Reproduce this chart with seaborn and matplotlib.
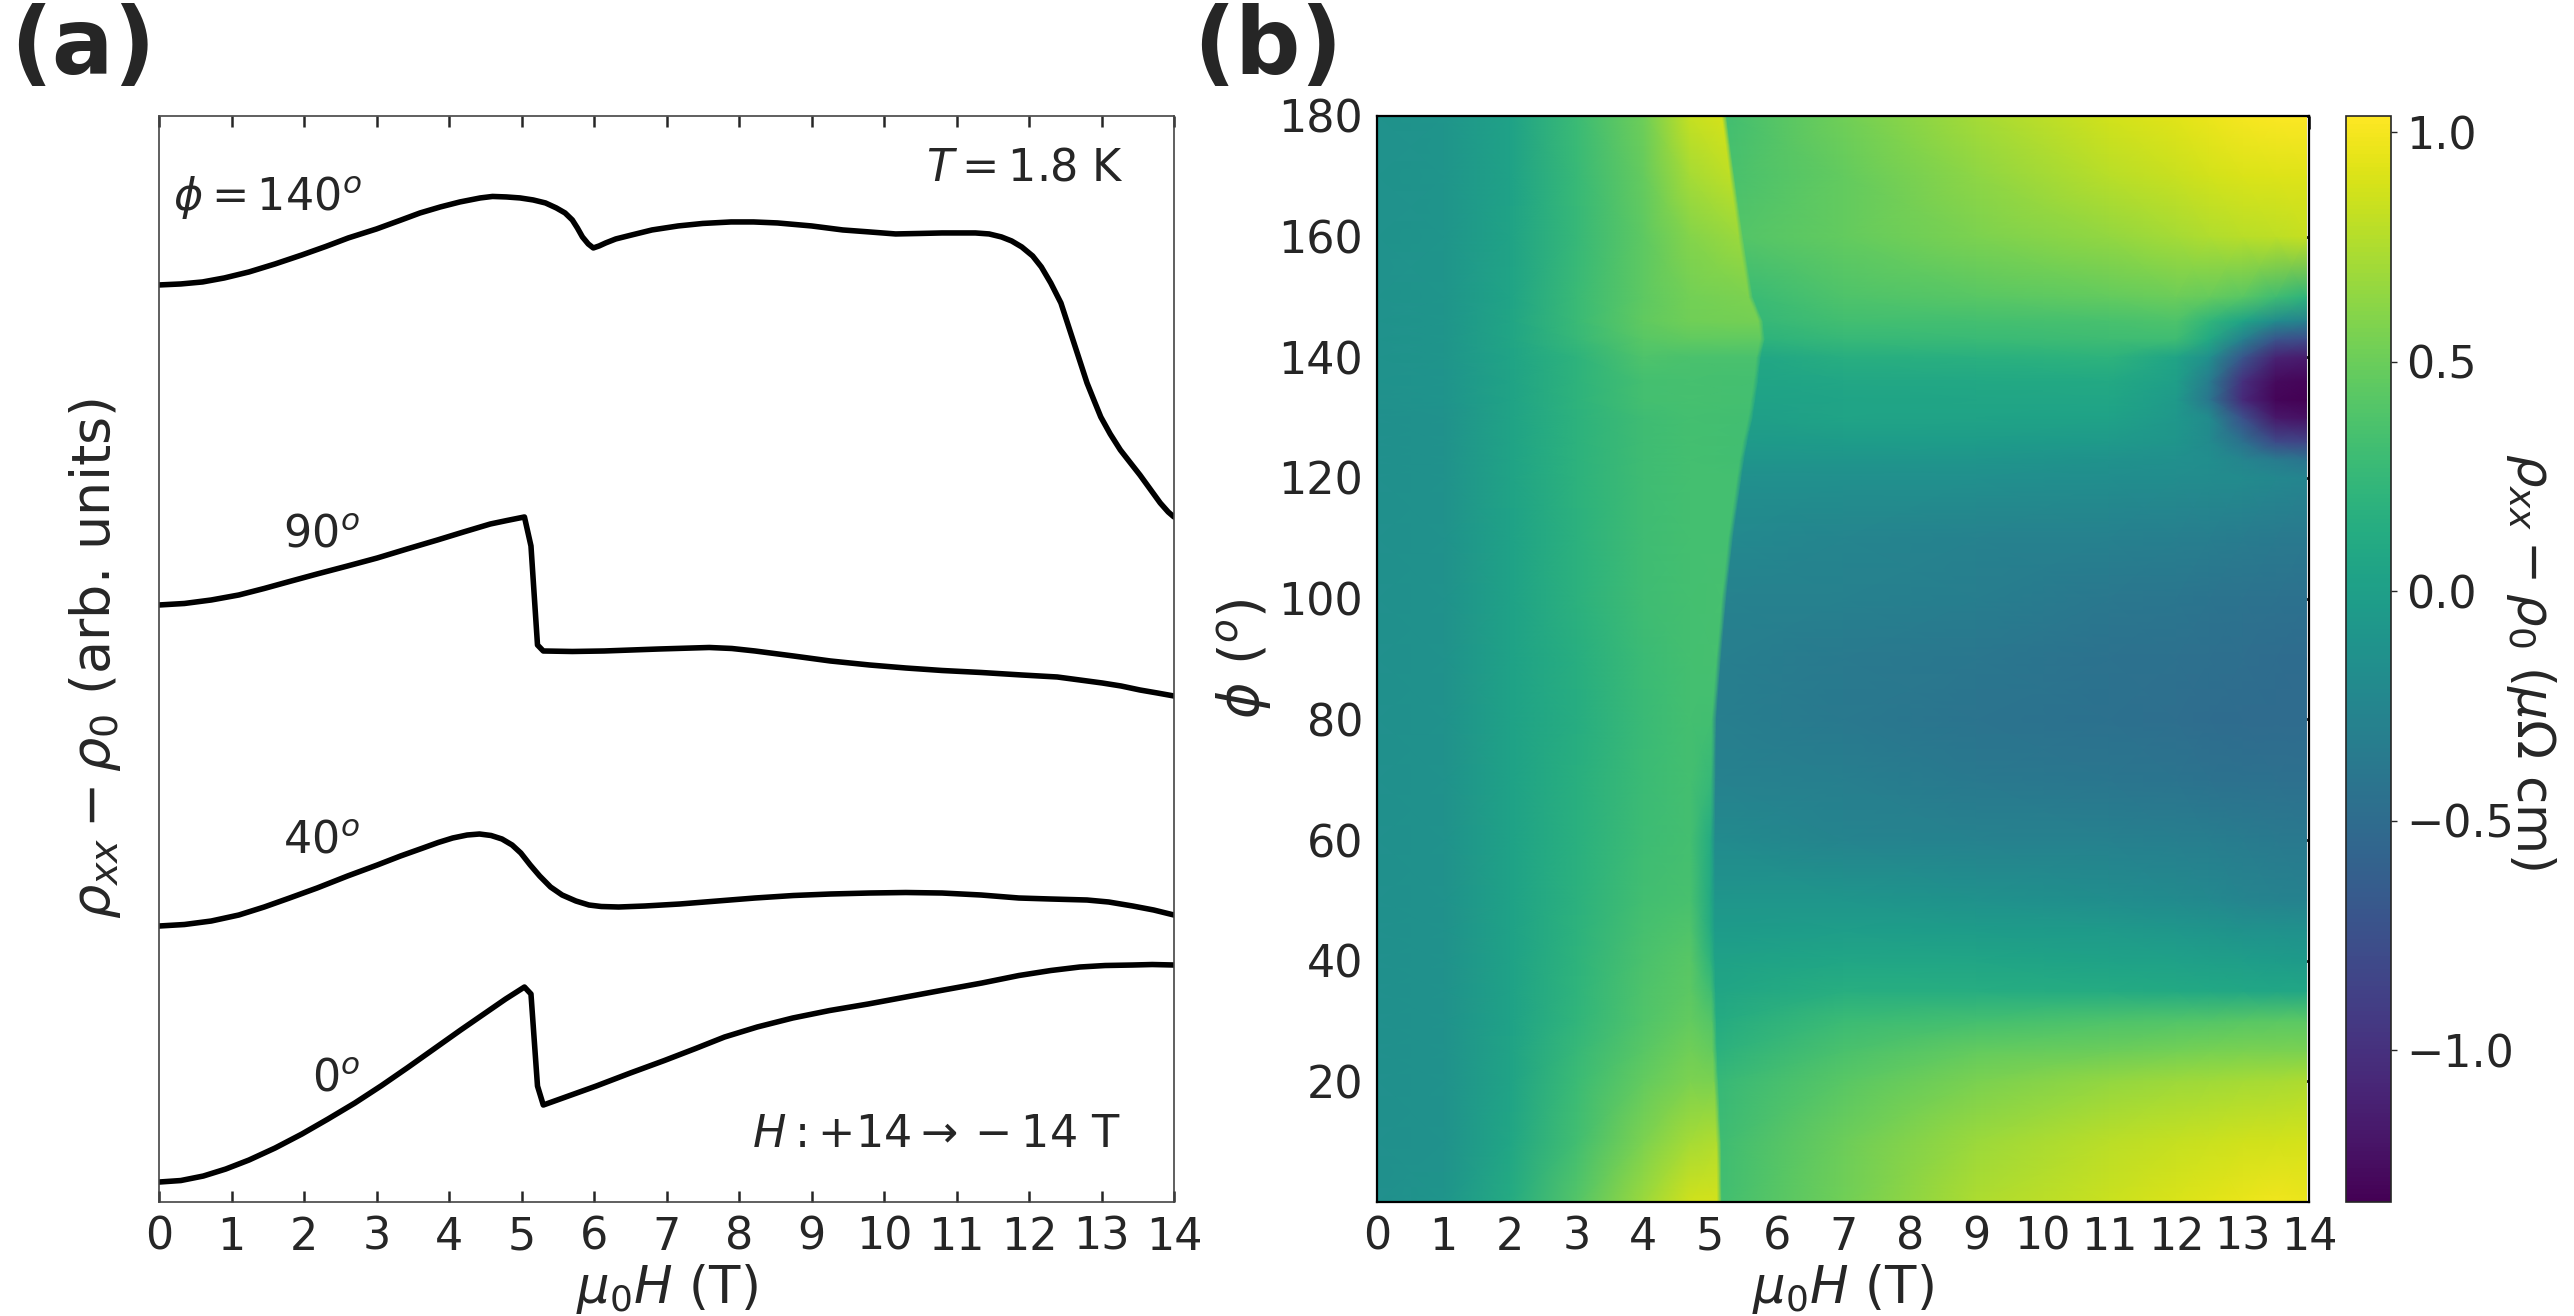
import numpy as np
import pandas as pd
import seaborn as sns
import matplotlib
matplotlib.use("Agg")
import matplotlib.pyplot as plt

# ---------------- panel (a): field sweeps, offset for clarity (arb. units) ----------------
field_140 = [0, 0.3, 0.60, 0.9, 1.24, 1.6, 1.97, 2.3, 2.61, 3.0, 3.34, 3.6, 3.88, 4.15, 4.43,
             4.6, 4.79, 4.98, 5.16, 5.33, 5.48, 5.6, 5.70, 5.77, 5.84, 5.92, 5.99, 6.07, 6.16,
             6.3, 6.52, 6.8, 7.16, 7.5, 7.89, 8.2, 8.53, 9.0, 9.43, 9.8, 10.16, 10.5, 10.80,
             11.26, 11.45, 11.62, 11.76, 11.90, 12.05, 12.17, 12.3, 12.44, 12.53, 12.62,
             12.71, 12.80, 12.9, 12.99, 13.12, 13.26, 13.4, 13.53, 13.67, 13.81, 13.92, 14.0]
rho_140 = [9.17, 9.18, 9.20, 9.24, 9.30, 9.38, 9.47, 9.555, 9.64, 9.73, 9.82, 9.89, 9.95, 10.0,
           10.04, 10.055, 10.05, 10.04, 10.02, 9.99, 9.94, 9.89, 9.82, 9.74, 9.65, 9.58, 9.54,
           9.56, 9.59, 9.63, 9.67, 9.72, 9.76, 9.785, 9.80, 9.80, 9.79, 9.76, 9.72, 9.70, 9.68,
           9.685, 9.69, 9.69, 9.68, 9.65, 9.61, 9.55, 9.46, 9.35, 9.19, 8.99, 8.79, 8.59,
           8.39, 8.19, 8.01, 7.85, 7.68, 7.52, 7.39, 7.27, 7.13, 6.99, 6.9, 6.85]

field_90 = [0, 0.35, 0.72, 1.1, 1.45, 1.8, 2.18, 2.6, 3.01, 3.42, 3.84, 4.2, 4.57, 4.8, 5.04,
            5.13, 5.22, 5.30, 5.7, 6.14, 6.9, 7.59, 7.9, 8.22, 8.75, 9.26, 9.8, 10.30, 10.8,
            11.34, 11.9, 12.39, 12.7, 13.01, 13.27, 13.53, 13.77, 14.0]
rho_90 = [5.97, 5.985, 6.02, 6.07, 6.135, 6.205, 6.28, 6.36, 6.44, 6.53, 6.62, 6.70, 6.78,
          6.815, 6.85, 6.56, 5.57, 5.51, 5.505, 5.51, 5.53, 5.545, 5.535, 5.51, 5.46, 5.41,
          5.37, 5.34, 5.315, 5.295, 5.27, 5.25, 5.22, 5.19, 5.16, 5.12, 5.09, 5.06]

field_40 = [0, 0.35, 0.72, 1.1, 1.45, 1.8, 2.18, 2.6, 3.01, 3.33, 3.64, 3.85, 4.05, 4.25, 4.42,
            4.58, 4.73, 4.87, 4.99, 5.12, 5.25, 5.4, 5.56, 5.75, 5.93, 6.1, 6.34, 6.7, 7.18,
            7.7, 8.22, 8.75, 9.26, 9.8, 10.30, 10.8, 11.34, 11.86, 12.3, 12.80, 13.1, 13.43,
            13.72, 14.0]
rho_40 = [2.76, 2.775, 2.81, 2.87, 2.95, 3.04, 3.14, 3.26, 3.37, 3.46, 3.54, 3.595, 3.64, 3.67,
          3.68, 3.665, 3.63, 3.57, 3.49, 3.37, 3.26, 3.15, 3.07, 3.01, 2.97, 2.955, 2.95, 2.96,
          2.98, 3.01, 3.04, 3.065, 3.08, 3.09, 3.095, 3.09, 3.07, 3.04, 3.03, 3.02, 3.0, 2.96,
          2.92, 2.87]

field_0 = [0, 0.3, 0.61, 0.92, 1.24, 1.6, 1.97, 2.33, 2.70, 3.07, 3.43, 3.8, 4.16, 4.47, 4.78,
           5.04, 5.13, 5.22, 5.30, 6.03, 6.5, 6.97, 7.4, 7.80, 8.25, 8.74, 9.25, 9.78, 10.3,
           10.82, 11.35, 11.86, 12.3, 12.70, 13.05, 13.43, 13.7, 14.0]
rho_0 = [0.20, 0.215, 0.26, 0.33, 0.42, 0.54, 0.68, 0.83, 0.99, 1.165, 1.345, 1.535, 1.72,
         1.875, 2.03, 2.15, 2.08, 1.16, 0.97, 1.16, 1.29, 1.415, 1.535, 1.65, 1.75, 1.84,
         1.915, 1.98, 2.05, 2.12, 2.19, 2.265, 2.315, 2.35, 2.365, 2.37, 2.375, 2.37]

# ---------------- panel (b): colour map rho_xx - rho_0 (uOhm cm) ----------------
phi_rows = [0, 10, 20, 25, 30, 35, 40, 45, 50, 60, 70, 80, 90, 100, 110, 120, 123, 126,
            130, 133, 136, 140, 143, 146, 150, 160, 170, 180]
# field of the sharp step for each angle
h_cross = [5.13, 5.12, 5.08, 5.06, 5.05, 5.04, 5.03, 5.03, 5.03, 5.03, 5.04, 5.05, 5.12,
           5.2, 5.3, 5.43, 5.47, 5.52, 5.6, 5.64, 5.68, 5.72, 5.78, 5.75, 5.6, 5.45, 5.32, 5.2]
h_left = [0, 1, 2, 3, 4, 4.7]          # nodes below the step
h_right = [7, 9, 11, 12, 12.5, 13, 13.5, 13.96]  # nodes above the step
# columns: h_left..., just below step, just above step, h_right...
rho_map = [
    [-0.15, -0.10, 0.12, 0.40, 0.68, 0.86, 0.88, 0.32, 0.52, 0.74, 0.85, 0.90, 0.93, 0.96, 0.98, 0.97],
    [-0.15, -0.12, 0.07, 0.32, 0.57, 0.72, 0.75, 0.30, 0.50, 0.68, 0.79, 0.83, 0.85, 0.86, 0.87, 0.88],
    [-0.15, -0.12, 0.04, 0.28, 0.47, 0.57, 0.56, 0.25, 0.42, 0.56, 0.65, 0.69, 0.70, 0.72, 0.73, 0.74],
    [-0.15, -0.12, 0.04, 0.25, 0.42, 0.52, 0.48, 0.18, 0.36, 0.47, 0.50, 0.53, 0.55, 0.56, 0.56, 0.56],
    [-0.15, -0.12, 0.03, 0.22, 0.38, 0.47, 0.40, 0.12, 0.28, 0.33, 0.37, 0.39, 0.40, 0.42, 0.43, 0.43],
    [-0.15, -0.12, 0.03, 0.21, 0.37, 0.44, 0.30, 0.06, 0.15, 0.14, 0.12, 0.10, 0.09, 0.08, 0.07, 0.07],
    [-0.15, -0.12, 0.03, 0.20, 0.36, 0.42, 0.20, 0.02, 0.07, 0.06, 0.03, 0.01, 0.00, -0.01, -0.03, -0.05],
    [-0.15, -0.12, 0.03, 0.19, 0.34, 0.38, 0.12, -0.04, -0.01, -0.03, -0.05, -0.08, -0.10, -0.12, -0.13, -0.14],
    [-0.15, -0.12, 0.03, 0.18, 0.32, 0.35, 0.10, -0.09, -0.09, -0.12, -0.17, -0.20, -0.22, -0.25, -0.27, -0.28],
    [-0.15, -0.12, 0.03, 0.17, 0.29, 0.33, 0.12, -0.20, -0.26, -0.28, -0.30, -0.32, -0.33, -0.35, -0.36, -0.37],
    [-0.15, -0.12, 0.03, 0.16, 0.28, 0.33, 0.25, -0.28, -0.32, -0.37, -0.40, -0.42, -0.44, -0.45, -0.46, -0.47],
    [-0.15, -0.12, 0.03, 0.14, 0.27, 0.33, 0.32, -0.32, -0.37, -0.42, -0.45, -0.48, -0.49, -0.50, -0.50, -0.50],
    [-0.15, -0.12, 0.03, 0.15, 0.28, 0.33, 0.34, -0.32, -0.36, -0.39, -0.44, -0.46, -0.47, -0.48, -0.49, -0.50],
    [-0.15, -0.12, 0.03, 0.18, 0.30, 0.33, 0.34, -0.28, -0.30, -0.33, -0.38, -0.40, -0.42, -0.43, -0.44, -0.45],
    [-0.15, -0.12, 0.03, 0.18, 0.30, 0.33, 0.33, -0.22, -0.25, -0.28, -0.30, -0.32, -0.33, -0.35, -0.36, -0.37],
    [-0.15, -0.12, 0.04, 0.19, 0.30, 0.33, 0.33, -0.15, -0.15, -0.15, -0.17, -0.18, -0.19, -0.20, -0.23, -0.25],
    [-0.15, -0.12, 0.04, 0.19, 0.30, 0.33, 0.32, -0.10, -0.10, -0.10, -0.12, -0.15, -0.17, -0.25, -0.35, -0.42],
    [-0.15, -0.12, 0.04, 0.19, 0.30, 0.33, 0.32, -0.05, -0.03, -0.03, -0.05, -0.10, -0.20, -0.45, -0.80, -0.85],
    [-0.15, -0.12, 0.04, 0.19, 0.30, 0.33, 0.32, 0.00, 0.05, 0.04, 0.03, -0.07, -0.20, -0.75, -1.18, -1.22],
    [-0.14, -0.11, 0.04, 0.20, 0.33, 0.34, 0.33, 0.03, 0.05, 0.06, 0.07, -0.05, -0.40, -1.05, -1.30, -1.33],
    [-0.13, -0.11, 0.04, 0.20, 0.33, 0.34, 0.33, 0.05, 0.08, 0.09, 0.10, 0.00, -0.35, -1.00, -1.27, -1.30],
    [-0.12, -0.10, 0.05, 0.20, 0.37, 0.36, 0.36, 0.08, 0.15, 0.17, 0.20, 0.05, -0.15, -0.70, -1.10, -1.15],
    [-0.12, -0.10, 0.06, 0.25, 0.42, 0.46, 0.46, 0.20, 0.25, 0.27, 0.30, 0.30, 0.10, -0.30, -0.72, -0.78],
    [-0.12, -0.10, 0.06, 0.27, 0.46, 0.52, 0.54, 0.25, 0.32, 0.33, 0.35, 0.37, 0.22, 0.05, -0.20, -0.30],
    [-0.12, -0.10, 0.05, 0.27, 0.45, 0.53, 0.57, 0.28, 0.37, 0.42, 0.47, 0.50, 0.48, 0.42, 0.30, 0.20],
    [-0.13, -0.10, 0.04, 0.25, 0.45, 0.60, 0.68, 0.40, 0.47, 0.57, 0.65, 0.72, 0.75, 0.78, 0.80, 0.83],
    [-0.13, -0.10, 0.03, 0.26, 0.48, 0.72, 0.80, 0.36, 0.47, 0.63, 0.78, 0.84, 0.87, 0.90, 0.91, 0.92],
    [-0.13, -0.10, 0.03, 0.28, 0.51, 0.83, 0.88, 0.32, 0.52, 0.72, 0.87, 0.93, 0.97, 1.00, 1.02, 1.03],
]
cbar_ticks = [-1.0, -0.5, 0.0, 0.5, 1.0]

# ---------------- style ----------------
sns.set_style("white")
plt.rcParams["font.family"] = ["DejaVu Sans"]
plt.rcParams["mathtext.fontset"] = "dejavusans"
FS = 16
LFS = 18.5

fig = plt.figure(figsize=(12.87, 6.58), dpi=200)
ax_a = fig.add_axes([0.0618, 0.0866, 0.3943, 0.8253])
ax_b = fig.add_axes([0.535, 0.0866, 0.3621, 0.8253])
cax = fig.add_axes([0.9114, 0.0866, 0.0175, 0.8253])

# ---- (a) ----
curves = pd.concat([
    pd.DataFrame({"field": field_0, "rho": rho_0, "angle": "0"}),
    pd.DataFrame({"field": field_40, "rho": rho_40, "angle": "40"}),
    pd.DataFrame({"field": field_90, "rho": rho_90, "angle": "90"}),
    pd.DataFrame({"field": field_140, "rho": rho_140, "angle": "140"}),
])
sns.lineplot(data=curves, x="field", y="rho", units="angle", estimator=None,
             sort=False, color="black", lw=2.0, solid_joinstyle="round", ax=ax_a)
ax_a.set_xlim(0, 14)
ax_a.set_ylim(0, 10.86)
ax_a.set_xticks(range(15))
ax_a.set_yticks([])
ax_a.tick_params(axis="x", direction="in", top=True, bottom=True, length=4,
                 width=0.9, labelsize=FS, pad=5)
for sp in ax_a.spines.values():
    sp.set_linewidth(0.6)
    sp.set_color("#444444")
ax_a.set_xlabel(r"$\mu_0H$ (T)", fontsize=LFS, labelpad=1)
ax_a.set_ylabel(r"$\rho_{xx}-\rho_0$ (arb. units)", fontsize=19.5, labelpad=13)

ax_a.text(0.19, 10.04, r"$\phi=140^o$", fontsize=FS, ha="left", va="center")
ax_a.text(2.77, 6.67, r"$90^o$", fontsize=FS, ha="right", va="center")
ax_a.text(2.77, 3.61, r"$40^o$", fontsize=FS, ha="right", va="center")
ax_a.text(2.77, 1.23, r"$0^o$", fontsize=FS, ha="right", va="center")
ax_a.text(13.3, 10.34, r"$T=1.8$ K", fontsize=FS, ha="right", va="center")
ax_a.text(13.27, 0.68, r"$H:+14\rightarrow -14$ T", fontsize=FS, ha="right", va="center")

# ---- (b) ----
X = np.array([h_left + [hc - 0.02, hc + 0.05] + h_right for hc in h_cross])
Y = np.repeat(np.array(phi_rows, dtype=float)[:, None], X.shape[1], axis=1)
C = np.array(rho_map)
mesh = ax_b.pcolormesh(X, Y, C, shading="gouraud", cmap="viridis", vmin=-1.33, vmax=1.035)
ax_b.set_xlim(0, 14)
ax_b.set_ylim(0, 180)
ax_b.set_xticks(range(15))
ax_b.set_yticks(range(20, 181, 20))
ax_b.tick_params(direction="in", top=True, right=True, length=4.5, width=1.0,
                 labelsize=FS, pad=5)
for sp in ax_b.spines.values():
    sp.set_linewidth(0.8)
    sp.set_color("black")
ax_b.set_xlabel(r"$\mu_0H$ (T)", fontsize=LFS, labelpad=1)
ax_b.set_ylabel(r"$\phi$ ($^o$)", fontsize=20, labelpad=2)

cb = fig.colorbar(mesh, cax=cax, ticks=cbar_ticks)
cb.outline.set_linewidth(0.6)
cb.ax.tick_params(labelsize=FS, length=2, width=0.5)
fig.text(0.9833, 0.497, r"$\rho_{xx}-\rho_0$ ($\mu\Omega$ cm)", fontsize=LFS,
         rotation=270, ha="center", va="center")

fig.text(0.004, 0.998, "(a)", fontsize=33, fontweight="bold", ha="left", va="top")
fig.text(0.4636, 0.998, "(b)", fontsize=33, fontweight="bold", ha="left", va="top")

fig.savefig("out.png", dpi=200)
